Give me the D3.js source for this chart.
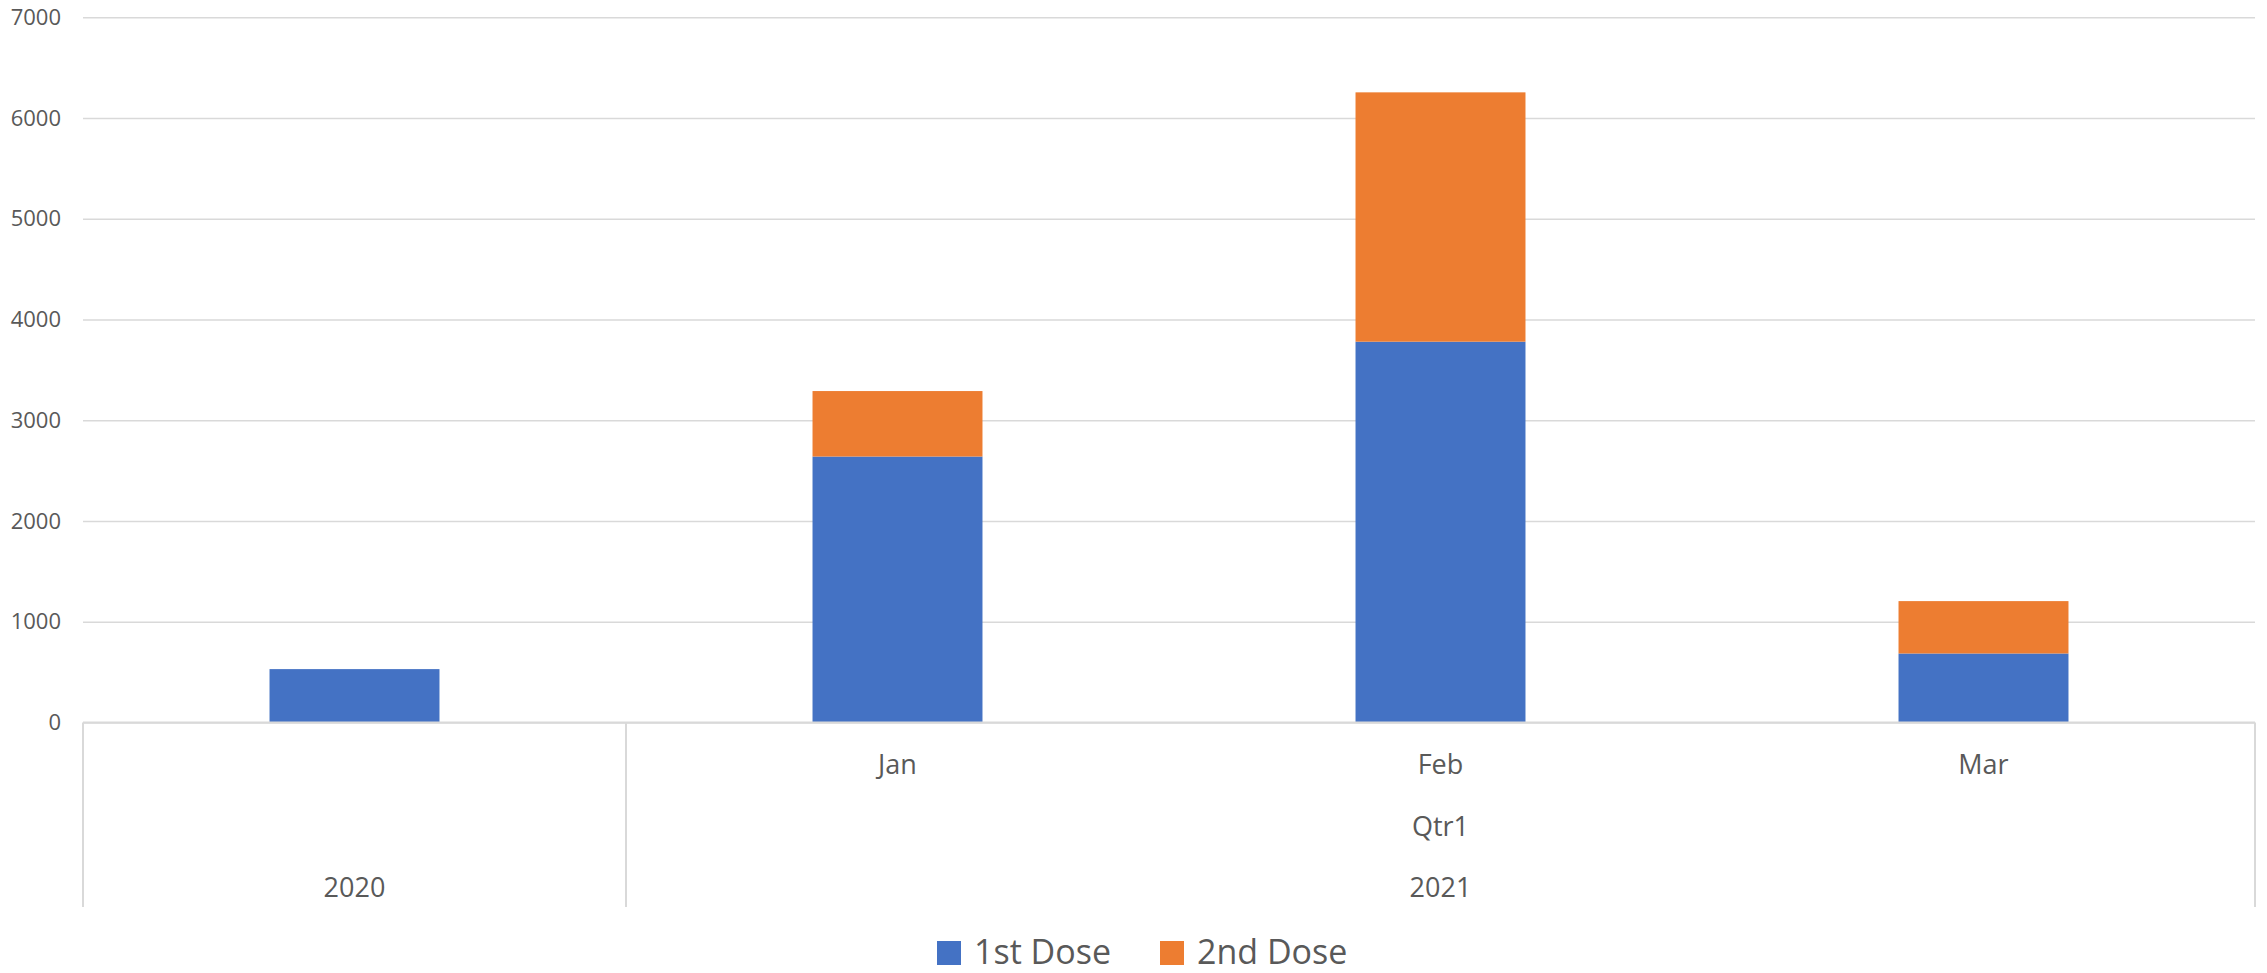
<!DOCTYPE html>
<html>
<head>
<meta charset="utf-8">
<script src="https://cdn.jsdelivr.net/npm/d3@7"></script>
<style>
  body { margin: 0; background: #fff; }
  svg text { font-family: "Open Sans", "Noto Sans", sans-serif; fill: #595959; }
</style>
</head>
<body>
<svg id="svg" width="2267" height="973"></svg>
<script>
// data
var categories = ["2020", "Jan", "Feb", "Mar"];
var monthLabels = ["", "Jan", "Feb", "Mar"];
var quarterLabels = ["", "Qtr1", "Qtr1", "Qtr1"];
var yearLabels = ["2020", "2021", "2021", "2021"];
var firstDose = [530, 2640, 3780, 685];
var secondDose = [0, 650, 2475, 520];
var seriesNames = ["1st Dose", "2nd Dose"];
var colors = ["#4472C4", "#ED7D31"];
var yTicks = [0, 1000, 2000, 3000, 4000, 5000, 6000, 7000];

var svg = d3.select("#svg");
// plot area edges (note: "top" is reserved on window, so use other names)
var plotL = 83, plotR = 2255, plotT = 17.3, plotB = 722.5, axisBottom = 907;

var x = d3.scaleBand()
    .domain(categories)
    .range([plotL, plotR])
    .paddingInner(0.687)
    .paddingOuter(0.3435);

var y = d3.scaleLinear()
    .domain([0, 7000])
    .range([plotB, plotT]);

// gridlines + y labels
var yAxis = svg.append("g")
    .attr("transform", "translate(" + plotL + ",0)")
    .call(d3.axisLeft(y).tickValues(yTicks).tickSize(-(plotR - plotL)).tickPadding(22).tickFormat(d3.format("d")));
yAxis.select(".domain").remove();
yAxis.selectAll(".tick line").attr("stroke", "#d9d9d9").attr("stroke-width", 1.5);
yAxis.selectAll(".tick text")
    .style("font-size", "22px")
    .attr("fill", "#595959");

// stacked bars
var rows = categories.map(function(c, i) {
    return { cat: c, "1st Dose": firstDose[i], "2nd Dose": secondDose[i] };
});
var stack = d3.stack().keys(seriesNames)(rows);

svg.append("g").selectAll("g")
    .data(stack)
    .enter().append("g")
    .attr("fill", function(d, i) { return colors[i]; })
    .selectAll("rect")
    .data(function(d) { return d; })
    .enter().append("rect")
    .attr("x", function(d) { return x(d.data.cat); })
    .attr("width", x.bandwidth())
    .attr("y", function(d) { return y(d[1]); })
    .attr("height", function(d) { return y(d[0]) - y(d[1]); });

// category axis (multi-level)
var axisG = svg.append("g");
axisG.append("line")
    .attr("x1", plotL).attr("x2", plotR)
    .attr("y1", y(0)).attr("y2", y(0))
    .attr("stroke", "#d9d9d9").attr("stroke-width", 2);

// vertical separators: left edge, between years, right edge
var yearStarts = [];
yearLabels.forEach(function(yr, i) {
    if (i === 0 || yearLabels[i - 1] !== yr) yearStarts.push(x(categories[i]) - x.step() * x.paddingOuter());
});
yearStarts.push(plotR);
axisG.selectAll("line.sep")
    .data(yearStarts)
    .enter().append("line")
    .attr("class", "sep")
    .attr("x1", function(d) { return d; }).attr("x2", function(d) { return d; })
    .attr("y1", y(0)).attr("y2", axisBottom)
    .attr("stroke", "#d9d9d9").attr("stroke-width", 2);

// month labels
axisG.selectAll("text.month")
    .data(categories)
    .enter().append("text")
    .attr("class", "month")
    .attr("x", function(d) { return x(d) + x.bandwidth() / 2; })
    .attr("y", 774)
    .attr("text-anchor", "middle")
    .style("font-size", "27px")
    .text(function(d, i) { return monthLabels[i]; });

// grouped labels (quarter and year) centred over their span
function groupSpans(labels) {
    var spans = [];
    labels.forEach(function(l, i) {
        var last = spans[spans.length - 1];
        if (last && last.label === l) last.end = i;
        else spans.push({ label: l, start: i, end: i });
    });
    return spans.filter(function(s) { return s.label !== ""; });
}
function spanCenter(s) {
    return (x(categories[s.start]) + x(categories[s.end]) + x.bandwidth()) / 2;
}

axisG.selectAll("text.qtr")
    .data(groupSpans(quarterLabels))
    .enter().append("text")
    .attr("class", "qtr")
    .attr("x", spanCenter)
    .attr("y", 836)
    .attr("text-anchor", "middle")
    .style("font-size", "27px")
    .text(function(d) { return d.label; });

axisG.selectAll("text.year")
    .data(groupSpans(yearLabels))
    .enter().append("text")
    .attr("class", "year")
    .attr("x", spanCenter)
    .attr("y", 897)
    .attr("text-anchor", "middle")
    .style("font-size", "27px")
    .text(function(d) { return d.label; });

// legend
var legendX = [937, 1160];
var legend = svg.append("g").selectAll("g")
    .data(seriesNames)
    .enter().append("g")
    .attr("transform", function(d, i) { return "translate(" + legendX[i] + ",941)"; });
legend.append("rect")
    .attr("width", 24).attr("height", 24)
    .attr("fill", function(d, i) { return colors[i]; });
legend.append("text")
    .attr("x", 37)
    .attr("y", 23)
    .style("font-size", "34px")
    .text(function(d) { return d; });
</script>
</body>
</html>
